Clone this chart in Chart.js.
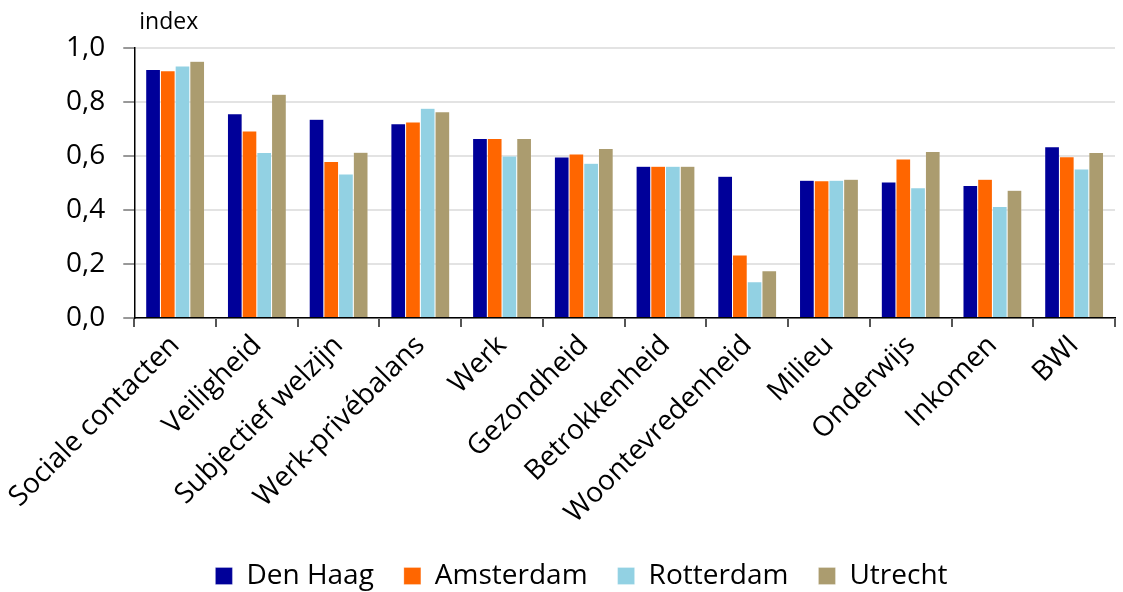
<!DOCTYPE html>
<html>
<head>
<meta charset="utf-8">
<script src="https://cdn.jsdelivr.net/npm/chart.js@4.4.1/dist/chart.umd.min.js"></script>
<style>
  html, body { margin: 0; padding: 0; background: #fff; }
  #wrap { width: 1123px; height: 592px; }
</style>
</head>
<body>
<div id="wrap"><canvas id="chart"></canvas></div>
<script>
// categories and values
const categories = ["Sociale contacten", "Veiligheid", "Subjectief welzijn", "Werk-privébalans",
  "Werk", "Gezondheid", "Betrokkenheid", "Woontevredenheid", "Milieu", "Onderwijs", "Inkomen", "BWI"];
const denHaag   = [0.92, 0.756, 0.736, 0.719, 0.665, 0.596, 0.562, 0.525, 0.510, 0.504, 0.491, 0.634];
const amsterdam = [0.916, 0.693, 0.580, 0.726, 0.665, 0.607, 0.562, 0.233, 0.508, 0.589, 0.514, 0.597];
const rotterdam = [0.933, 0.613, 0.533, 0.777, 0.600, 0.573, 0.562, 0.134, 0.510, 0.482, 0.413, 0.552];
const utrecht   = [0.951, 0.829, 0.614, 0.764, 0.665, 0.628, 0.562, 0.175, 0.514, 0.617, 0.473, 0.613];
const yTicks = [0, 0.2, 0.4, 0.6, 0.8, 1.0];

const FONT = "'Open Sans', 'Noto Sans', sans-serif";

// "index" label above the y axis
const unitLabel = {
  id: 'unitLabel',
  afterDraw(chart) {
    const ctx = chart.ctx;
    ctx.save();
    ctx.font = "23px " + FONT;
    ctx.fillStyle = '#000';
    ctx.textBaseline = 'alphabetic';
    ctx.fillText('index', chart.chartArea.left + 5, chart.chartArea.top - 19);
    ctx.restore();
  }
};

function ds(label, data, color) {
  return {
    label: label,
    data: data,
    backgroundColor: color,
    borderColor: 'rgba(255,255,255,0.5)',
    borderWidth: 0.5,
    categoryPercentage: 0.72,
    barPercentage: 1.0
  };
}

new Chart(document.getElementById('chart'), {
  type: 'bar',
  data: {
    labels: categories,
    datasets: [
      ds('Den Haag', denHaag, '#000099'),
      ds('Amsterdam', amsterdam, '#ff6600'),
      ds('Rotterdam', rotterdam, '#92d1e3'),
      ds('Utrecht', utrecht, '#ab9c6f')
    ]
  },
  options: {
    responsive: true,
    maintainAspectRatio: false,
    animation: false,
    layout: { padding: { top: 48, right: 8, left: 48, bottom: -8 } },
    plugins: {
      tooltip: { enabled: false },
      legend: {
        position: 'bottom',
        labels: {
          font: { family: FONT, size: 28 },
          color: '#000',
          boxWidth: 17,
          boxHeight: 17,
          padding: 30
        }
      }
    },
    scales: {
      x: {
        grid: {
          offset: true,
          drawOnChartArea: false,
          drawTicks: true,
          tickLength: 9,
          tickColor: '#555',
          lineWidth: 2
        },
        border: { color: '#000', width: 1.5 },
        ticks: {
          font: { family: FONT, size: 28 },
          color: '#000',
          maxRotation: 45,
          minRotation: 45,
          autoSkip: false,
          padding: 2
        }
      },
      y: {
        min: 0,
        max: 1,
        afterBuildTicks(axis) {
          axis.ticks = yTicks.map(v => ({ value: v }));
        },
        grid: {
          color: '#e3e3e3',
          lineWidth: 2,
          tickLength: 11,
          tickColor: '#333',
          tickWidth: 1
        },
        border: { color: '#000', width: 1.5 },
        ticks: {
          font: { family: FONT, size: 28 },
          color: '#000',
          padding: 18,
          callback: v => v.toFixed(1).replace('.', ',')
        }
      }
    }
  },
  plugins: [unitLabel]
});
</script>
</body>
</html>
